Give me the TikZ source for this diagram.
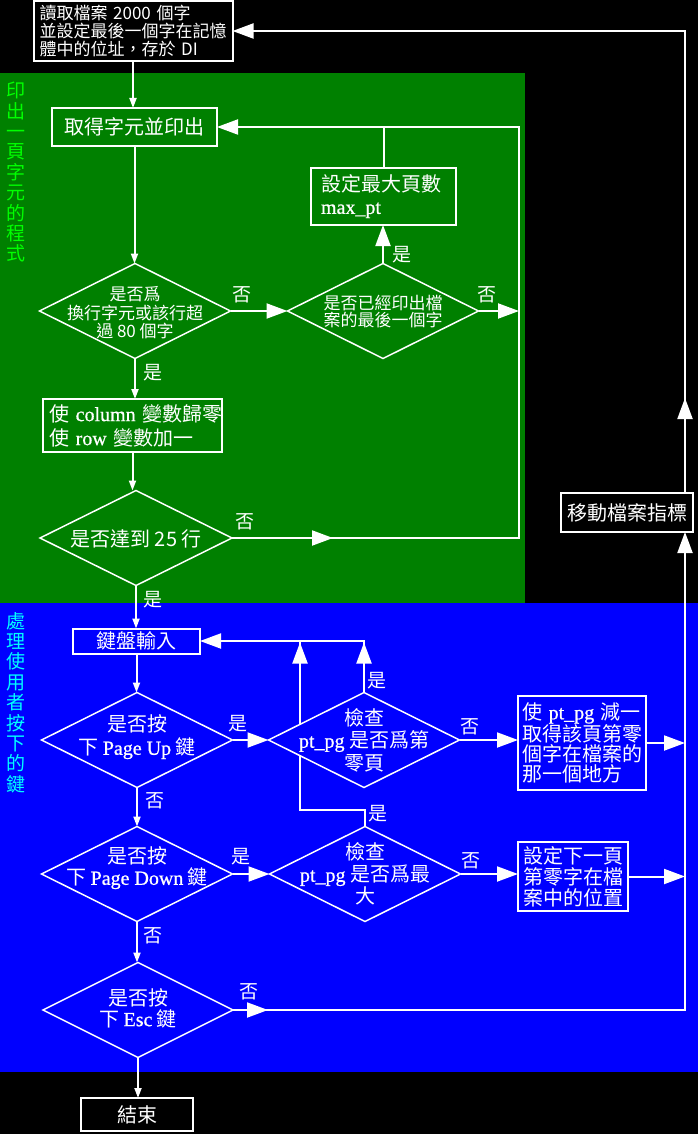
\documentclass[tikz,border=0pt]{standalone}
\usepackage{fontspec}
\setmainfont{Noto Sans CJK TC}
\newfontfamily\tms[FakeBold=0.8]{Liberation Serif}
\usetikzlibrary{shapes.geometric,arrows.meta,decorations.markings}
\definecolor{gbg}{RGB}{0,128,0}
\definecolor{bbg}{RGB}{0,0,255}
\definecolor{lime}{RGB}{0,255,0}
\definecolor{aqua}{RGB}{0,255,255}
\pgfdeclarelayer{bg}\pgfdeclarelayer{hid}\pgfsetlayers{bg,hid,main}
\tikzset{
  fnt/.style 2 args={font=\fontsize{#1}{#2}\selectfont},
  box/.style={draw=white, line width=2pt, text=white, inner sep=0pt, outer sep=0pt},
  dia/.style={diamond, draw=white, line width=1.5pt, inner sep=0pt, outer sep=0pt, minimum width=191pt, minimum height=95pt},
  dtext/.style={text=white, align=center, inner sep=0pt},
  conn/.style={white, line width=2pt},
  BigT/.tip={Triangle[length=21pt,width=15pt]},
  SmT/.tip={Triangle[length=10pt,width=7pt]},
  barrow/.style={conn, -{BigT}},
  sarrow/.style={conn, -{SmT}},
  midarr/.style={postaction={decorate}, decoration={markings, mark=at position #1 with {\arrow{BigT}}}},
  yn/.style={text=white, inner sep=0pt, fnt={19}{19}},
  vlab/.style={align=center, anchor=north, inner sep=0pt, fnt={19}{20.4}},
}
\begin{document}
\begin{tikzpicture}[x=1pt,y=-1pt]
\useasboundingbox (0,0) rectangle (698,1134);
\begin{pgfonlayer}{bg}
\fill[black] (0,0) rectangle (698,1134);
\fill[gbg] (0,73) rectangle (525,603);
\fill[bbg] (0,603) rectangle (698,1072);
\end{pgfonlayer}

% side labels
\node[vlab, text=lime] (vg) at (16,82) {印\\出\\一\\頁\\字\\元\\的\\程\\式};
\node[vlab, text=aqua] (vb) at (16,612) {處\\理\\使\\用\\者\\按\\下\\的\\鍵};

% boxes
\node[box, minimum width=199pt, minimum height=60pt, text width=187pt, align=left, fnt={17}{18}] (start) at (133,31)
  {\mbox{讀取檔案 2000 個字}\\\mbox{並設定最後一個字在記憶}\\\mbox{體中的位址，存於 DI}};
\node[box, minimum width=165pt, minimum height=38pt, fnt={20}{22}] (print) at (134.5,127) {取得字元並印出};
\node[box, minimum width=145pt, minimum height=57pt, text width=125pt, align=left, fnt={20}{22}] (maxp) at (383.5,196.5)
  {設定最大頁數\\{\tms max\_pt}};
\node[box, minimum width=179pt, minimum height=53pt, text width=167pt, align=left, fnt={20}{24}] (reset) at (132.5,425.5)
  {\mbox{使 {\tms column} 變數歸零}\\\mbox{使 {\tms row} 變數加一}};
\node[box, minimum width=127pt, minimum height=25pt, fnt={20}{22}] (kbd) at (136.5,641) {鍵盤輸入};
\node[box, minimum width=128pt, minimum height=94pt, text width=120pt, align=left, fnt={20}{20.2}] (dec) at (582,743)
  {\mbox{使 {\tms pt\_pg} 減一}\\取得該頁第零\\個字在檔案的\\那一個地方};
\node[box, minimum width=110pt, minimum height=69pt, text width=100pt, align=left, fnt={20}{21}] (nxt) at (573,876.5)
  {設定下一頁\\第零字在檔\\案中的位置};
\node[box, minimum width=112pt, minimum height=33pt, fnt={20}{22}] (fin) at (137,1114.5) {結束};
\node[box, minimum width=132pt, minimum height=39pt, fnt={20}{22}] (move) at (627,512.5) {移動檔案指標};

% diamonds
\node[dia, fill=gbg] (d1) at (135,311) {};
\node[dtext, fnt={17}{18.5}] (d1t) at (135,313) {是否爲\\換行字元或該行超\\過 80 個字};
\node[dia, fill=gbg] (d2) at (383,311) {};
\node[dtext, fnt={17}{17.5}] (d2t) at (383,311.5) {是否已經印出檔\\案的最後一個字};
\node[dia, fill=gbg, minimum width=192pt] (d3) at (136,538) {};
\node[dtext, fnt={20}{22}] (d3t) at (136,539) {是否達到 25 行};
\node[dia, fill=bbg] (pup) at (137,740) {};
\node[dtext, fnt={20}{23}] (pupt) at (137,737) {是否按\\下 {\tms Page Up} 鍵};
\node[dia, fill=bbg] (c1) at (364,740) {};
\node[dtext, fnt={20}{22.5}] (c1t) at (364,740) {檢查\\{\tms pt\_pg} 是否爲第\\零頁};
\node[dia, fill=bbg] (pdn) at (137,874) {};
\node[dtext, fnt={20}{21}] (pdnt) at (137,868) {是否按\\下 {\tms Page Down} 鍵};
\node[dia, fill=bbg] (c2) at (365,874) {};
\node[dtext, fnt={20}{22}] (c2t) at (365,874) {檢查\\{\tms pt\_pg} 是否爲最\\大};
\node[dia, fill=bbg, minimum width=190pt] (esc) at (138,1010) {};
\node[dtext, fnt={20}{21}] (esct) at (138,1008) {是否按\\下 {\tms Esc} 鍵};

% helper coordinates
\coordinate (l3) at (519,538);
\coordinate (lp) at (l3 |- print.east);
\coordinate (rt) at (685,31);
\coordinate (e1) at (685,1010);
\coordinate (kr) at (c1.north |- kbd.east);
\coordinate (kj) at (300,641);
\coordinate (c2a) at (365,810);
\coordinate (c2b) at (300,810);

% connectors
\draw[sarrow] (start.south) -- (start.south |- print.north);
\draw[sarrow] (print.south) -- (print.south |- d1.north);
\draw[barrow] (d1.east) -- (d2.west);
\draw[barrow] (d2.north) -- (d2.north |- maxp.south);
\draw[conn] (maxp.north) -- (maxp.north |- print.east);
\draw[barrow] (d2.east) -- (d2.east -| l3);
\draw[sarrow] (d1.south) -- (d1.south |- reset.north);
\draw[sarrow] (reset.south) -- (reset.south |- d3.north);
\draw[barrow, midarr=101pt] (d3.east) -- (l3) -- (lp) -- (print.east);
\draw[sarrow] (d3.south) -- (d3.south |- kbd.north);
\draw[sarrow] (kbd.south) -- (kbd.south |- pup.north);
\draw[barrow] (pup.east) -- (c1.west);
\draw[sarrow] (pup.south) -- (pup.south |- pdn.north);
\draw[barrow, midarr=50pt] (c1.north) -- (kr) -- (kbd.east);
\begin{pgfonlayer}{hid}
\draw[conn, midarr=249pt] (c2.north) -- (c2a) -- (c2b) -- (kj);
\end{pgfonlayer}
\draw[barrow] (c1.east) -- (c1.east -| dec.west);
\draw[barrow] (dec.east) -- (dec.east -| rt);
\draw[barrow] (pdn.east) -- (c2.west);
\draw[barrow] (c2.east) -- (c2.east -| nxt.west);
\draw[barrow] (nxt.east) -- (nxt.east -| rt);
\draw[sarrow] (pdn.south) -- (pdn.south |- esc.north);
\draw[barrow, midarr=35pt] (esc.east) -- (e1) -- (e1 |- move.south);
\draw[barrow, midarr=95pt] (rt |- move.north) -- (rt) -- (start.east);
\draw[sarrow] (esc.south) -- (esc.south |- fin.north);

% yes/no labels
\node[yn] (n1) at (242,295) {否};
\node[yn] (y2) at (402,255) {是};
\node[yn] (n2) at (487,295) {否};
\node[yn] (y1) at (153,373) {是};
\node[yn] (n3) at (245,522) {否};
\node[yn] (y3) at (153,600) {是};
\node[yn] (y4) at (238,724) {是};
\node[yn] (n4) at (155,801) {否};
\node[yn] (y5) at (377,681) {是};
\node[yn] (n5) at (470,727) {否};
\node[yn] (y6) at (378,814) {是};
\node[yn] (y7) at (241,857) {是};
\node[yn] (n6) at (471,861) {否};
\node[yn] (n7) at (153,936) {否};
\node[yn] (n8) at (249,992) {否};
\end{tikzpicture}
\end{document}
